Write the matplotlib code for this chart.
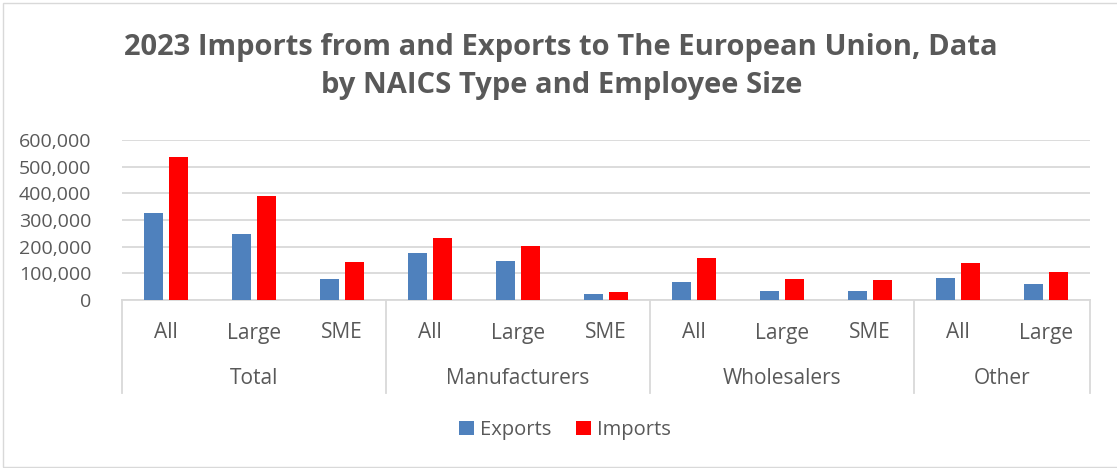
import matplotlib
matplotlib.use("Agg")
import matplotlib.pyplot as plt
from matplotlib.patches import Rectangle
import numpy as np

groups = ["Total", "Manufacturers", "Wholesalers", "Other"]
group_sizes = [3, 3, 3, 2]
subcats = ["All", "Large", "SME", "All", "Large", "SME", "All", "Large", "SME", "All", "Large"]
exports = [327000, 246000, 79000, 175000, 147500, 22500, 67500, 32500, 32500, 82500, 60000]
imports = [535000, 389000, 142500, 232500, 201000, 30000, 157500, 79000, 75000, 140000, 105000]
yticks = [0, 100000, 200000, 300000, 400000, 500000, 600000]

TXT = "#595959"
FONT = "Open Sans"
plt.rcParams["font.family"] = [FONT, "DejaVu Sans"]

W, H = 1117, 468
fig = plt.figure(figsize=(W / 100, H / 100), dpi=100)
ax = fig.add_axes([122 / W, 1 - 300 / H, (1090 - 122) / W, 160 / H])

x = np.arange(len(subcats))
bw = 0.227
gap = 0.057
ax.bar(x - (bw + gap) / 2, exports, bw, color="#4f81bd", label="Exports", zorder=3)
ax.bar(x + (bw + gap) / 2, imports, bw, color="#ff0000", label="Imports", zorder=3)

ax.set_xlim(-0.5, len(subcats) - 0.5)
ax.set_ylim(0, 600000)
ax.set_yticks(yticks)
ax.set_yticklabels([f"{v:,}" for v in yticks], fontsize=14, color=TXT)
ax.yaxis.grid(True, color="#d9d9d9", linewidth=1.3, zorder=0)
ax.tick_params(axis="y", length=0, pad=22)
ax.tick_params(axis="x", length=0, labelbottom=False)
for s in ["left", "right", "top"]:
    ax.spines[s].set_visible(False)
ax.spines["bottom"].set_color("#d9d9d9")
ax.spines["bottom"].set_linewidth(1.3)
ax.set_axisbelow(True)

trans = ax.get_xaxis_transform()
for i, s in enumerate(subcats):
    ax.text(i, -33 / 160, s, transform=trans, ha="center", va="center",
            fontsize=15, color=TXT, clip_on=False)

bounds = np.concatenate([[0], np.cumsum(group_sizes)])
for b in bounds:
    ax.plot([b - 0.5, b - 0.5], [0, -93 / 160], transform=trans, color="#d9d9d9",
            linewidth=1.3, clip_on=False)
for g, a, b in zip(groups, bounds[:-1], bounds[1:]):
    ax.text((a + b - 1) / 2, -78 / 160, g, transform=trans, ha="center", va="center",
            fontsize=15, color=TXT, clip_on=False)

fig.text(0.5025, 1 - 47 / H, "2023 Imports from and Exports to The European Union, Data",
         ha="center", va="center", fontsize=21, fontweight="bold", color=TXT)
fig.text(0.5025, 1 - 86 / H, "by NAICS Type and Employee Size",
         ha="center", va="center", fontsize=21, fontweight="bold", color=TXT)

leg = fig.legend(loc="center", bbox_to_anchor=(0.506, 1 - 430 / H), ncol=2, frameon=False,
                 fontsize=14.5, handlelength=0.75, handleheight=0.75, handletextpad=0.3,
                 columnspacing=1.2)
for t in leg.get_texts():
    t.set_color(TXT)

fig.patches.append(Rectangle((2.5 / W, 1.5 / H), (1125 - 2.5) / W, (465.5 - 1.5) / H,
                             transform=fig.transFigure, fill=False,
                             edgecolor="#d9d9d9", linewidth=1.0))

fig.savefig("out.png", dpi=100, facecolor="white")
